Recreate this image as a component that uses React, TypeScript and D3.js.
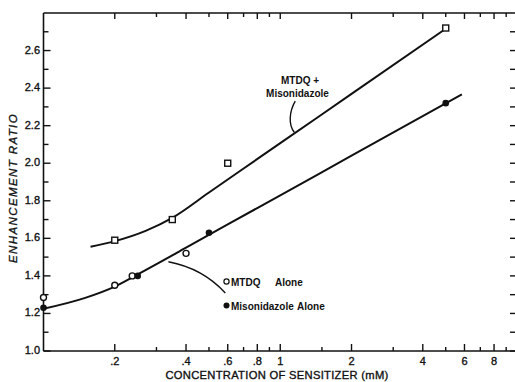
import React from "react";
import * as d3 from "d3";

// ---- data ----
const comboX = [0.2, 0.35, 0.6, 5];
const comboY = [1.59, 1.7, 2.0, 2.72];
const mtdqX = [0.1, 0.2, 0.237, 0.4];
const mtdqY = [1.285, 1.35, 1.4, 1.52];
const misoX = [0.1, 0.25, 0.5, 5];
const misoY = [1.23, 1.4, 1.63, 2.32];
// hand-drawn fit curves (nodes)
const comboFitX = [0.158, 0.2, 0.27, 0.35, 0.5, 1, 2, 5];
const comboFitY = [1.555, 1.585, 1.64, 1.709, 1.844, 2.107, 2.369, 2.716];
const aloneFitX = [0.1, 0.15, 0.2, 0.25, 0.4, 0.6, 1, 2, 5.85];
const aloneFitY = [1.225, 1.283, 1.343, 1.408, 1.55, 1.674, 1.829, 2.04, 2.366];

const xMajorTicks = [0.2, 0.4, 0.6, 0.8, 1, 2, 4, 6, 8];
const xTickLabels = [".2", ".4", ".6", ".8", "1", "2", "4", "6", "8"];
const xMinorTicks = [0.3, 0.5, 0.7, 0.9, 1.5, 3, 5, 7, 9];
const xTopTicks = [0.2, 0.3, 0.4, 0.5, 0.6, 0.7, 0.8, 0.9, 1, 2, 3, 4, 5, 6, 7, 8, 9];
const yMajorTicks = [1.0, 1.2, 1.4, 1.6, 1.8, 2.0, 2.2, 2.4, 2.6];
const yTickLabels = ["1.0", "1.2", "1.4", "1.6", "1.8", "2.0", "2.2", "2.4", "2.6"];
const yMinorTicks = [1.1, 1.3, 1.5, 1.7, 1.9, 2.1, 2.3, 2.5, 2.7];

export default function App() {
  const W = 515, H = 382;
  const x = d3.scaleLog().domain([0.1, 10]).range([43.5, 517]);
  const y = d3.scaleLinear().domain([1.0, 2.8]).range([351, 13]);
  const font = "'Liberation Sans', Arial, Helvetica, sans-serif";
  const ink = "#111";
  const txt = { fill: ink, stroke: ink, strokeWidth: 0.35 } as const;

  const line = d3
    .line<[number, number]>()
    .x((d) => x(d[0]))
    .y((d) => y(d[1]))
    .curve(d3.curveMonotoneX);

  const comboFit = comboFitX.map((v, i) => [v, comboFitY[i]] as [number, number]);
  const aloneFit = aloneFitX.map((v, i) => [v, aloneFitY[i]] as [number, number]);

  const x0 = x.range()[0], x1 = x.range()[1];
  const y0 = y.range()[0], y1 = y.range()[1];

  // leader lines (in data coords)
  const upLeader = `M${x(1.157)},${y(2.331)} C${x(1.091)},${y(2.275)} ${x(1.081)},${y(2.205)} ${x(1.146)},${y(2.165)}`;
  const lowLeader = `M${x(0.337)},${y(1.475)} Q${x(0.47)},${y(1.44)} ${x(0.586)},${y(1.309)}`;

  return (
    <svg
      width={W}
      height={H}
      style={{ position: "absolute", left: 0, top: 0, background: "#fff" }}
      fontFamily={font}
    >
      <rect width={W} height={H} fill="#fff" />
      {/* frame */}
      <line x1={x0} x2={x0} y1={y1} y2={y0} stroke={ink} strokeWidth={1.6} />
      <line x1={x0} x2={x1} y1={y0} y2={y0} stroke={ink} strokeWidth={1.6} />
      <line x1={x0} x2={x1} y1={y1} y2={y1} stroke={ink} strokeWidth={1.6} />
      <line x1={x1} x2={x1} y1={y1} y2={y0} stroke={ink} strokeWidth={1.6} />

      {/* bottom ticks */}
      {xMajorTicks.map((t, i) => (
        <g key={"bx" + i}>
          <line x1={x(t)} x2={x(t)} y1={y0} y2={y0 - 7} stroke={ink} strokeWidth={1.4} />
          <text x={x(t)} y={364.5} fontSize={11} textAnchor="middle" {...txt}>
            {xTickLabels[i]}
          </text>
        </g>
      ))}
      {xMinorTicks.map((t, i) => (
        <line key={"bm" + i} x1={x(t)} x2={x(t)} y1={y0} y2={y0 - 4} stroke={ink} strokeWidth={1.4} />
      ))}
      {/* top ticks */}
      {xTopTicks.map((t, i) => (
        <line
          key={"tx" + i}
          x1={x(t)}
          x2={x(t)}
          y1={y1}
          y2={y1 + (xMajorTicks.includes(t) ? 6 : 4)}
          stroke={ink}
          strokeWidth={1.4}
        />
      ))}

      {/* left ticks */}
      {yMajorTicks.map((t, i) => (
        <g key={"ly" + i}>
          <line x1={x0} x2={x0 + 7} y1={y(t)} y2={y(t)} stroke={ink} strokeWidth={1.4} />
          <text x={40} y={y(t) + 3} fontSize={11} textAnchor="end" {...txt}>
            {yTickLabels[i]}
          </text>
        </g>
      ))}
      {yMinorTicks.map((t, i) => (
        <line key={"lm" + i} x1={x0} x2={x0 + 5} y1={y(t)} y2={y(t)} stroke={ink} strokeWidth={1.4} />
      ))}
      {/* right ticks */}
      {[...yMajorTicks, ...yMinorTicks].map((t, i) => (
        <line key={"ry" + i} x1={x1} x2={x1 - 7} y1={y(t)} y2={y(t)} stroke={ink} strokeWidth={1.4} />
      ))}

      {/* axis titles */}
      <text x={277} y={379} fontSize={11.2} letterSpacing={0.3} textAnchor="middle" {...txt}>
        CONCENTRATION OF SENSITIZER (mM)
      </text>
      <text
        transform={`translate(17,188) rotate(-90)`}
        fontSize={11.5}
        letterSpacing={1.4}
        fontStyle="italic"
        textAnchor="middle"
        {...txt}
      >
        ENHANCEMENT RATIO
      </text>

      {/* fit curves */}
      <path d={line(comboFit) || ""} fill="none" stroke={ink} strokeWidth={2} />
      <path d={line(aloneFit) || ""} fill="none" stroke={ink} strokeWidth={2} />

      {/* leaders */}
      <path d={upLeader} fill="none" stroke={ink} strokeWidth={1.4} />
      <path d={lowLeader} fill="none" stroke={ink} strokeWidth={1.4} />

      {/* points */}
      {comboX.map((v, i) => (
        <rect
          key={"c" + i}
          x={x(v) - 3}
          y={y(comboY[i]) - 3}
          width={6}
          height={6}
          fill="#fff"
          stroke={ink}
          strokeWidth={1.4}
        />
      ))}
      {mtdqX.map((v, i) => (
        <circle key={"m" + i} cx={x(v)} cy={y(mtdqY[i])} r={3} fill="#fff" stroke={ink} strokeWidth={1.4} />
      ))}
      {misoX.map((v, i) => (
        <circle key={"s" + i} cx={x(v)} cy={y(misoY[i])} r={3.3} fill={ink} />
      ))}

      {/* annotations */}
      <text x={300} y={84} fontSize={10} fontWeight="bold" textAnchor="middle" fill={ink}>
        MTDQ +
      </text>
      <text x={297.5} y={97} fontSize={10} fontWeight="bold" textAnchor="middle" fill={ink}>
        Misonidazole
      </text>

      <circle cx={226.5} cy={281.5} r={2.6} fill="#fff" stroke={ink} strokeWidth={1.2} />
      <text x={231} y={285.5} fontSize={10} fontWeight="bold" fill={ink}>
        MTDQ
      </text>
      <text x={275} y={285.5} fontSize={10} fontWeight="bold" fill={ink}>
        Alone
      </text>
      <circle cx={226.5} cy={305.5} r={3} fill={ink} />
      <text x={231} y={309.5} fontSize={10} fontWeight="bold" fill={ink}>
        Misonidazole
      </text>
      <text x={297} y={309.5} fontSize={10} fontWeight="bold" fill={ink}>
        Alone
      </text>
    </svg>
  );
}
